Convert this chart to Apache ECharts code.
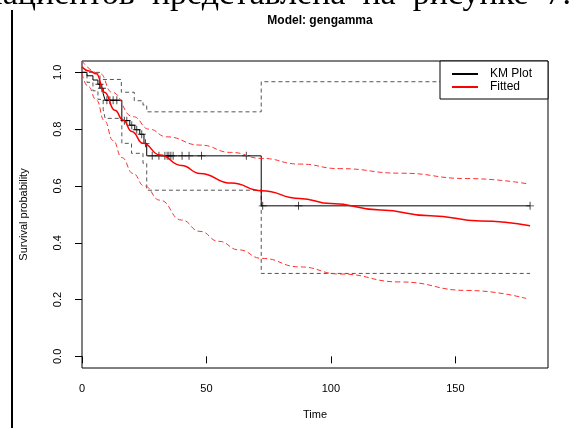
<!DOCTYPE html>
<html>
<head>
<meta charset="utf-8">
<script src="https://cdn.jsdelivr.net/npm/echarts@6/dist/echarts.min.js"></script>
<style>
  html, body { margin: 0; padding: 0; background: #fff; }
  #chart { width: 574px; height: 428px; }
</style>
</head>
<body>
<div id="chart"></div>
<script>
// Kaplan-Meier steps (time, survival after the drop)
const kmTime = [0, 2, 4.4, 6.4, 7.6, 8.5, 9.3, 16, 19.2, 21.2, 23.2, 24.9, 26, 72];
const kmSurv = [1, 0.988, 0.973, 0.958, 0.944, 0.925, 0.902, 0.83, 0.814, 0.798, 0.782, 0.75, 0.706, 0.53];
const kmEnd = 180;
// censored times (+ marks)
const censorTime = [7, 8, 10, 11.2, 12.5, 14, 17, 18, 20, 22, 24, 25.5, 28.2, 30.9, 33.3, 34.2, 34.9, 35.7, 36.6, 40.2, 43, 48, 66, 72.6, 87, 180];
// KM confidence limits
const ciUpTime = [0, 7.2, 15.8, 21, 24.5, 26, 72];
const ciUpVal = [1, 0.975, 0.93, 0.9, 0.885, 0.861, 0.967];
const ciLoTime = [0, 2, 4.4, 6.4, 8.5, 9.3, 16, 19.9, 24.5, 26, 72];
const ciLoVal = [1, 0.965, 0.935, 0.905, 0.87, 0.838, 0.75, 0.715, 0.68, 0.585, 0.292];
// fitted gengamma curve and its bounds
const fitTime = [0, 3, 5.8, 9, 13.2, 16.5, 20, 24.5, 31.3, 40, 47.4, 60, 72.2, 87.5, 100, 120, 140, 160, 180];
const fitSurv = [1.02, 1.005, 0.995, 0.93, 0.867, 0.832, 0.792, 0.75, 0.709, 0.672, 0.644, 0.61, 0.583, 0.556, 0.538, 0.515, 0.495, 0.477, 0.46];
const fitUpTime = [0, 7.2, 12, 20.5, 27, 34, 47.4, 60, 72.2, 87.5, 103.6, 127.8, 155, 179.4];
const fitUpSurv = [1.04, 0.996, 0.93, 0.844, 0.8, 0.773, 0.744, 0.718, 0.697, 0.677, 0.661, 0.645, 0.626, 0.607];
const fitLoTime = [0, 2.5, 5.8, 9, 12.5, 16, 20.5, 25, 31.3, 40, 47.4, 55, 63, 72.2, 87.5, 103.6, 127.8, 155, 178.4];
const fitLoSurv = [0.996, 0.95, 0.902, 0.83, 0.76, 0.7, 0.644, 0.6, 0.55, 0.48, 0.44, 0.405, 0.375, 0.345, 0.315, 0.29, 0.262, 0.232, 0.204];

const xTicks = [0, 50, 100, 150];
const yTicks = [0, 0.2, 0.4, 0.6, 0.8, 1];

const zip = (a, b) => a.map((v, i) => [v, b[i]]);
const survAt = t => {
  let s = kmSurv[0];
  kmTime.forEach((kt, i) => { if (kt <= t) s = kmSurv[i]; });
  return s;
};

const kmData = zip(kmTime, kmSurv).concat([[kmEnd, kmSurv[kmSurv.length - 1]]]);
const upData = zip(ciUpTime, ciUpVal).concat([[kmEnd, ciUpVal[ciUpVal.length - 1]]]);
const loData = zip(ciLoTime, ciLoVal).concat([[kmEnd, ciLoVal[ciLoVal.length - 1]]]);
const censorData = censorTime.map(t => [t, survAt(t)]);

const plus = 'path://M4,0h1v4h4v1h-4v4h-1v-4h-4v-1h4z';
const font = 'Liberation Sans';

const chart = echarts.init(document.getElementById('chart'));
chart.setOption({
  animation: false,
  backgroundColor: '#fff',
  title: {
    text: 'Model: gengamma',
    left: 315,
    top: 10,
    textAlign: 'center',
    textStyle: { fontFamily: font, fontSize: 12, fontWeight: 'bold', color: '#000' }
  },
  legend: {
    left: 440,
    top: 61,
    orient: 'vertical',
    backgroundColor: '#fff',
    borderColor: '#000',
    borderWidth: 1,
    borderRadius: 0,
    padding: [7, 16, 6, 12],
    itemWidth: 26,
    itemHeight: 2,
    itemGap: 1,
    textStyle: { fontFamily: font, fontSize: 12, color: '#000', padding: [0, 0, 0, 7] },
    data: [
      { name: 'KM Plot', icon: 'rect', itemStyle: { color: '#000' } },
      { name: 'Fitted', icon: 'rect', itemStyle: { color: '#ff0000' } }
    ]
  },
  grid: {
    left: 82, right: 26, top: 61, bottom: 60,
    show: true, borderColor: '#000', borderWidth: 1
  },
  xAxis: {
    type: 'value',
    min: 0,
    max: 187.2,
    name: 'Time',
    nameLocation: 'middle',
    nameGap: 41,
    nameTextStyle: { fontFamily: font, fontSize: 11, color: '#000' },
    axisLine: { show: false },
    axisTick: { show: true, length: 7, customValues: xTicks, lineStyle: { color: '#000' } },
    axisLabel: { customValues: xTicks, margin: 15, fontFamily: font, fontSize: 11, color: '#000' },
    splitLine: { show: false }
  },
  yAxis: {
    type: 'value',
    min: -0.041,
    max: 1.04,
    name: 'Survival probability',
    nameLocation: 'middle',
    nameGap: 53,
    nameRotate: 90,
    nameTextStyle: { fontFamily: font, fontSize: 11, color: '#000' },
    axisLine: { show: false },
    axisTick: { show: true, length: 7, customValues: yTicks, lineStyle: { color: '#000' } },
    axisLabel: {
      customValues: yTicks, rotate: 90, margin: 19,
      fontFamily: font, fontSize: 11, color: '#000',
      formatter: v => v.toFixed(1)
    },
    splitLine: { show: false }
  },
  graphic: [
    {
      type: 'text',
      style: {
        x: 571, y: 12, align: 'right', verticalAlign: 'bottom',
        text: 'выживаемости  пациентов  представлена  на  рисунке  7.',
        font: '34px "Liberation Serif"', fill: '#000'
      }
    },
    {
      type: 'line', shape: { x1: 12, y1: 10, x2: 12, y2: 428 },
      style: { stroke: '#000', lineWidth: 2 }
    }
  ],
  series: [
    {
      name: 'CI upper', type: 'line', step: 'end', data: upData, showSymbol: false,
      lineStyle: { color: '#555', width: 1, type: [4, 3] }, z: 2
    },
    {
      name: 'CI lower', type: 'line', step: 'end', data: loData, showSymbol: false,
      lineStyle: { color: '#555', width: 1, type: [4, 3] }, z: 2
    },
    {
      name: 'KM Plot', type: 'line', step: 'end', data: kmData, showSymbol: false,
      itemStyle: { color: '#000' },
      lineStyle: { color: '#000', width: 1 }, z: 3
    },
    {
      name: 'censored', type: 'scatter', data: censorData, symbol: plus, symbolSize: 8,
      itemStyle: { color: '#000' }, z: 4
    },
    {
      name: 'Fitted', type: 'line', data: zip(fitTime, fitSurv), showSymbol: false,
      smooth: 0.5, smoothMonotone: 'x',
      itemStyle: { color: '#ff0000' },
      lineStyle: { color: '#ff0000', width: 1.5 }, z: 5
    },
    {
      name: 'Fitted upper', type: 'line', data: zip(fitUpTime, fitUpSurv), showSymbol: false,
      smooth: 0.5, smoothMonotone: 'x',
      lineStyle: { color: '#ff3030', width: 1, type: [5, 3] }, z: 5
    },
    {
      name: 'Fitted lower', type: 'line', data: zip(fitLoTime, fitLoSurv), showSymbol: false,
      smooth: 0.5, smoothMonotone: 'x',
      lineStyle: { color: '#ff3030', width: 1, type: [5, 3] }, z: 5
    }
  ]
});
</script>
</body>
</html>
